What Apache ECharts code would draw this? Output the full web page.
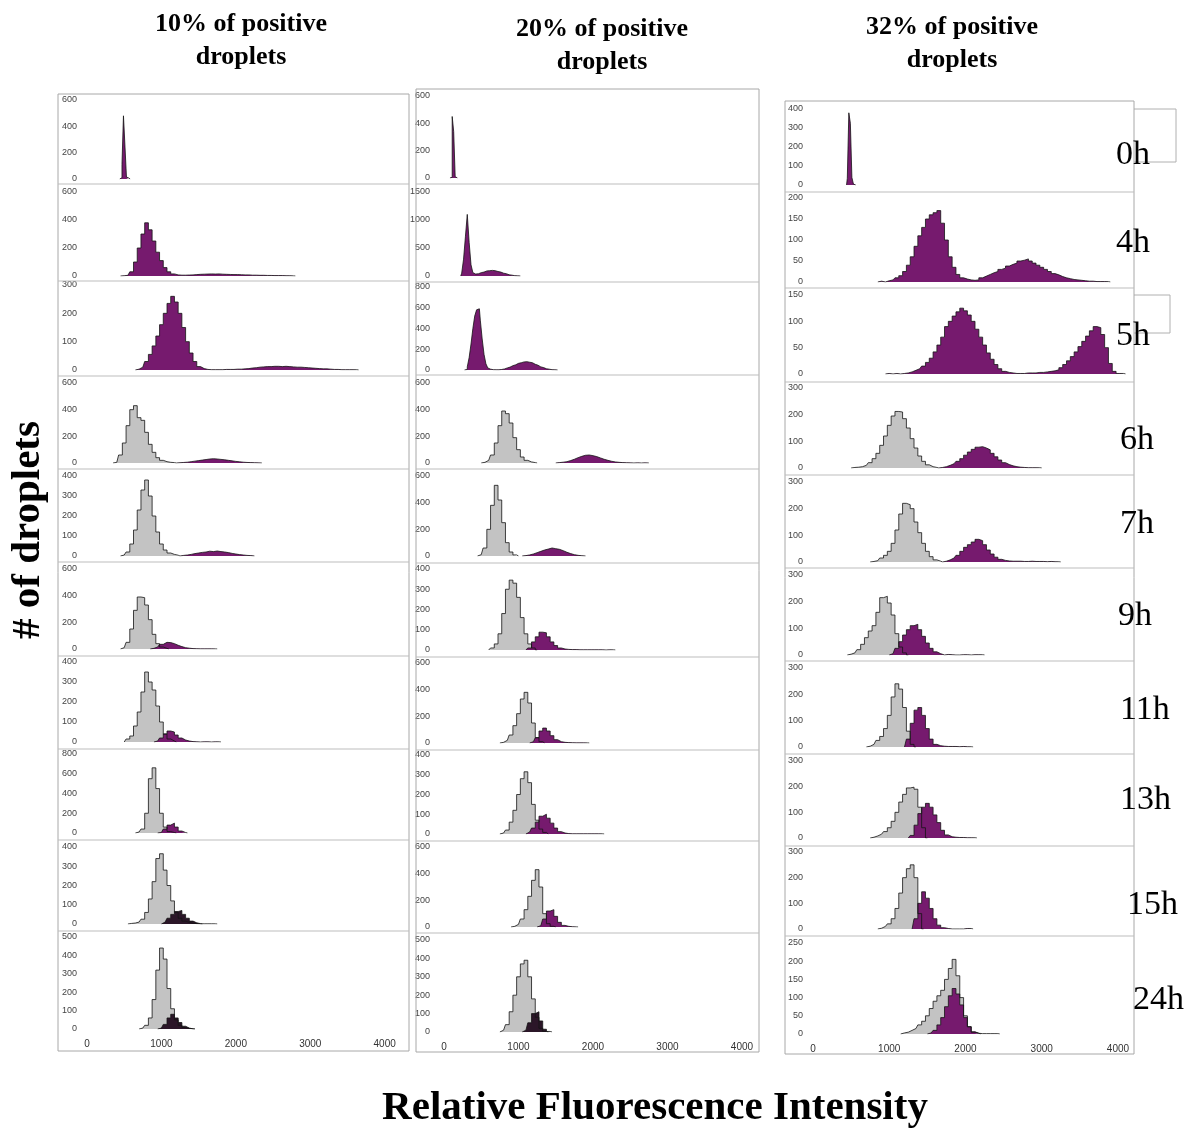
<!DOCTYPE html>
<html>
<head>
<meta charset="utf-8">
<title>Droplet fluorescence histograms</title>
<script src="https://cdn.jsdelivr.net/npm/echarts@6.0.0/dist/echarts.min.js"></script>
<style>
  html, body { margin: 0; padding: 0; background: #fff; }
  #chart { width: 1189px; height: 1130px; }
</style>
</head>
<body>
<div id="chart"></div>
<script>
// column titles and time points (one row per time point)
var columnTitles = ['10% of positive\ndroplets', '20% of positive\ndroplets', '32% of positive\ndroplets'];
var timeLabels = ['0h', '4h', '5h', '6h', '7h', '9h', '11h', '13h', '15h', '24h'];

// y axis top tick and tick step of every panel, per column
var yMax10 = [600, 600, 300, 600, 400, 600, 400, 800, 400, 500];
var yStep10 = [200, 200, 100, 200, 100, 200, 100, 200, 100, 100];
var yMax20 = [600, 1500, 800, 600, 600, 400, 600, 400, 600, 500];
var yStep20 = [200, 500, 200, 200, 200, 100, 200, 100, 200, 100];
var yMax32 = [400, 200, 150, 300, 300, 300, 300, 300, 300, 250];
var yStep32 = [100, 50, 50, 100, 100, 100, 100, 100, 100, 50];

// histograms: [first bin centre, bin width, counts]
// g = negative (grey) droplets, p = positive (purple) droplets
// 10% column
var a0p = [460, 20, [10, 110, 480, 250, 15, 8]];
var a1p = [500, 50, [2, 5, 30, 100, 200, 300, 380, 330, 250, 170, 110, 60, 30, 15, 8, 6, 6, 7, 8, 10, 12, 13, 14, 15, 14, 15, 13, 12, 11, 10, 10, 9, 8, 8, 6, 6, 5, 5, 4, 4, 3, 3, 3, 2, 2, 1]];
var a2p = [700, 50, [3, 10, 30, 55, 85, 120, 160, 200, 235, 260, 240, 200, 150, 100, 60, 30, 12, 5, 2, 1, 1, 1, 1, 2, 2, 2, 3, 3, 4, 5, 7, 8, 10, 11, 12, 12, 13, 13, 12, 13, 12, 11, 10, 10, 9, 8, 7, 6, 5, 4, 4, 3, 2, 2, 1, 1, 1, 1, 1]];
var a3g = [400, 50, [5, 60, 150, 280, 400, 430, 340, 320, 230, 140, 80, 40, 20, 10, 5, 3]];
var a3p = [1250, 50, [2, 4, 6, 10, 14, 18, 22, 26, 30, 32, 30, 27, 24, 20, 16, 12, 9, 6, 4, 3, 2, 1]];
var a4g = [500, 50, [5, 20, 60, 130, 230, 330, 380, 300, 200, 120, 60, 30, 15, 8, 4]];
var a4p = [1300, 50, [3, 5, 8, 12, 15, 18, 20, 24, 22, 25, 22, 20, 17, 13, 10, 7, 5, 3, 2]];
var a5g = [500, 50, [10, 50, 150, 290, 390, 385, 330, 220, 110, 40, 15, 5]];
var a5p = [900, 50, [5, 15, 35, 50, 48, 40, 28, 18, 10, 6, 3, 2, 1, 1, 1, 1, 1]];
var a6g = [550, 50, [15, 30, 80, 150, 250, 350, 300, 260, 180, 100, 40, 15, 5]];
var a6p = [950, 50, [5, 20, 40, 55, 50, 35, 20, 10, 5, 2, 1, 0, 1, 1, 0, 1, 1]];
var a7g = [700, 50, [10, 40, 200, 550, 660, 450, 200, 60, 15, 5]];
var a7p = [1000, 50, [5, 40, 80, 100, 60, 20, 5]];
var a8g = [600, 50, [3, 5, 10, 25, 60, 130, 220, 340, 365, 280, 200, 120, 60, 30, 15, 8, 4, 2, 1, 1, 1, 1, 1]];
var a8p = [1050, 50, [10, 30, 50, 65, 70, 50, 30, 15, 6, 2]];
var a9g = [750, 50, [5, 20, 60, 160, 320, 440, 380, 220, 110, 50, 20, 8, 3, 1]];
var a9p = [1000, 50, [5, 25, 60, 80, 60, 35, 15, 5, 1]];
// 20% column
var b0p = [100, 20, [5, 450, 340, 10]];
var b1p = [250, 25, [50, 300, 700, 1100, 600, 200, 60, 35, 40, 50, 60, 70, 80, 90, 95, 100, 100, 95, 90, 80, 70, 60, 50, 40, 30, 22, 15, 10, 6, 3, 1]];
var b2p = [300, 25, [5, 30, 120, 250, 400, 520, 580, 590, 480, 300, 150, 60, 20, 8, 3, 2, 2, 2, 3, 5, 10, 15, 20, 28, 35, 42, 50, 58, 64, 70, 75, 78, 80, 78, 75, 70, 62, 55, 46, 38, 30, 23, 17, 12, 8, 5, 3, 2, 1]];
var b3g = [550, 50, [5, 20, 60, 150, 280, 390, 370, 300, 190, 100, 45, 20, 8, 3]];
var b3p = [1550, 50, [3, 6, 10, 18, 28, 40, 50, 58, 60, 55, 48, 38, 28, 20, 13, 8, 5, 3, 2, 1, 0, 1, 0, 1]];
var b4g = [500, 50, [10, 60, 200, 380, 530, 420, 250, 100, 30, 8]];
var b4p = [1100, 50, [3, 8, 15, 25, 35, 45, 52, 60, 55, 50, 40, 28, 18, 10, 5, 2]];
var b5g = [650, 50, [10, 30, 80, 180, 300, 345, 330, 260, 160, 80, 30, 10]];
var b5p = [1150, 50, [10, 40, 65, 88, 85, 65, 40, 22, 10, 5, 3, 2, 2, 1, 1, 1, 1, 1, 1, 1, 0, 1, 1]];
var b6g = [800, 50, [5, 20, 60, 130, 220, 330, 380, 300, 150, 40, 10]];
var b6p = [1200, 50, [10, 40, 90, 112, 90, 55, 25, 10, 5, 3, 2, 1, 1, 1, 1]];
var b7g = [800, 50, [5, 20, 60, 120, 200, 280, 315, 260, 150, 70, 25, 8]];
var b7p = [1150, 50, [10, 30, 60, 90, 100, 80, 55, 30, 12, 5, 2, 1, 1, 1, 1, 1, 1, 1, 1, 1]];
var b8g = [950, 50, [5, 20, 60, 130, 230, 350, 430, 300, 100, 25, 5]];
var b8p = [1300, 50, [10, 60, 120, 130, 80, 35, 12, 5, 2, 1]];
var b9g = [800, 50, [10, 40, 110, 200, 300, 370, 390, 300, 180, 80, 20, 3]];
var b9p = [1100, 50, [10, 50, 100, 110, 60, 15, 3]];
// 32% column
var c0p = [460, 20, [35, 380, 325, 40, 5]];
var c1p = [900, 50, [2, 0, 3, 5, 10, 15, 25, 40, 60, 85, 110, 130, 150, 160, 165, 170, 140, 100, 60, 35, 18, 10, 7, 5, 4, 5, 10, 14, 18, 22, 25, 30, 33, 38, 42, 45, 50, 52, 55, 50, 45, 40, 35, 30, 25, 20, 17, 13, 10, 8, 6, 5, 4, 3, 2, 2, 1, 1, 1, 1]];
var c2p = [1000, 50, [1, 0, 1, 0, 1, 2, 4, 7, 10, 15, 22, 30, 42, 55, 70, 90, 100, 110, 118, 125, 120, 112, 100, 85, 70, 55, 40, 28, 18, 10, 5, 3, 2, 1, 1, 1, 2, 2, 2, 3, 3, 4, 5, 6, 8, 12, 18, 25, 33, 42, 52, 62, 72, 82, 90, 88, 75, 50, 20, 5, 1, 1]];
var c3g = [550, 50, [2, 3, 5, 10, 20, 35, 55, 85, 120, 160, 195, 212, 210, 185, 150, 110, 75, 45, 25, 12, 5, 2]];
var c3p = [1700, 50, [2, 5, 10, 16, 25, 35, 48, 60, 70, 78, 80, 75, 68, 55, 42, 30, 20, 13, 8, 5, 3, 2, 1, 1, 1, 1]];
var c4g = [800, 50, [2, 5, 15, 25, 40, 70, 120, 180, 220, 215, 200, 150, 110, 70, 40, 20, 8, 3]];
var c4p = [1750, 50, [3, 8, 15, 25, 40, 55, 65, 75, 85, 80, 65, 45, 30, 18, 10, 6, 4, 3, 3, 3, 2, 2, 3, 2, 2, 2, 1, 2, 1, 1]];
var c5g = [500, 50, [3, 8, 20, 40, 65, 90, 110, 160, 215, 220, 195, 150, 80, 30, 8]];
var c5p = [1050, 50, [5, 25, 50, 75, 95, 110, 115, 95, 70, 45, 25, 12, 5, 0, 2, 1, 0, 0, 1, 1, 0, 1, 1, 1]];
var c6g = [750, 50, [3, 10, 25, 40, 70, 120, 190, 240, 220, 150, 60, 10]];
var c6p = [1250, 50, [30, 90, 140, 150, 120, 70, 30, 10, 5, 3, 2, 2, 2, 1, 2, 1, 1]];
var c7g = [800, 50, [3, 8, 15, 25, 40, 65, 100, 140, 170, 195, 198, 190, 120, 40]];
var c7p = [1300, 50, [10, 50, 95, 120, 135, 120, 90, 60, 30, 12, 5, 3, 2, 2, 1, 1, 1]];
var c8g = [900, 50, [3, 10, 20, 40, 80, 140, 200, 235, 250, 200, 60]];
var c8p = [1350, 50, [40, 100, 145, 120, 80, 40, 15, 5, 2, 0, 0, 0, 0, 2, 2]];
var c9g = [1200, 50, [3, 5, 10, 15, 25, 35, 50, 70, 90, 105, 120, 150, 180, 205, 160, 100, 50, 20, 5, 2, 1, 1, 1, 1, 1]];
var c9p = [1550, 50, [3, 10, 25, 45, 75, 105, 125, 110, 80, 45, 20, 6, 2]];

var neg10 = [null, null, null, a3g, a4g, a5g, a6g, a7g, a8g, a9g];
var pos10 = [a0p, a1p, a2p, a3p, a4p, a5p, a6p, a7p, a8p, a9p];
var neg20 = [null, null, null, b3g, b4g, b5g, b6g, b7g, b8g, b9g];
var pos20 = [b0p, b1p, b2p, b3p, b4p, b5p, b6p, b7p, b8p, b9p];
var neg32 = [null, null, null, c3g, c4g, c5g, c6g, c7g, c8g, c9g];
var pos32 = [c0p, c1p, c2p, c3p, c4p, c5p, c6p, c7p, c8p, c9p];

// page layout (pixels)
var columns = [
    {
        neg: neg10, pos: pos10, yMax: yMax10, yStep: yStep10,
        left: 87, width: 320, xMax: 4300, labelMargin: 10,
        top: [100, 192, 285, 383, 476, 569, 662, 754, 847, 937],
        zero: [179, 276, 370, 463, 556, 649, 742, 833, 924, 1029],
        box: [58, 94, 409, 1051],
        seps: [184, 281, 376, 469, 562, 656, 749, 840, 931],
        titleX: 241, titleY: 41,
        darkRows: [8, 9]
    },
    {
        neg: neg20, pos: pos20, yMax: yMax20, yStep: yStep20,
        left: 444, width: 314, xMax: 4215, labelMargin: 14,
        top: [96, 192, 287, 383, 476, 569, 663, 755, 847, 940],
        zero: [178, 276, 370, 463, 556, 650, 743, 834, 927, 1032],
        box: [416, 89, 759, 1052],
        seps: [184, 282, 375, 469, 563, 657, 750, 841, 933],
        titleX: 602, titleY: 46,
        darkRows: [9]
    },
    {
        neg: neg32, pos: pos32, yMax: yMax32, yStep: yStep32,
        left: 813, width: 320, xMax: 4197, labelMargin: 10,
        top: [109, 198, 295, 388, 482, 575, 668, 761, 852, 943],
        zero: [185, 282, 374, 468, 562, 655, 747, 838, 929, 1034],
        box: [785, 101, 1134, 1054],
        seps: [192, 288, 382, 475, 568, 661, 754, 846, 936],
        titleX: 952, titleY: 44,
        darkRows: []
    }
];
var timeLabelPos = [[1116, 155], [1116, 243], [1116, 336], [1120, 440], [1120, 524],
    [1118, 616], [1120, 710], [1120, 800], [1127, 905], [1133, 1000]];
// leftover frame pieces beside the 0h and 5h labels
var sideBoxes = [[1134, 109, 1176, 162], [1134, 295, 1170, 333]];

var GREY = '#c3c3c3';
var PURPLE = '#761a6e';
var DARK = '#2b1628';

function toPoints(h) {
    var start = h[0], w = h[1], counts = h[2];
    var pts = [[start - w, 0]];
    counts.forEach(function (c, i) {
        pts.push([start + i * w, c]);
    });
    pts.push([start + counts.length * w, 0]);
    return pts;
}

function histSeries(h, k, color) {
    return {
        type: 'line',
        xAxisIndex: k,
        yAxisIndex: k,
        step: 'middle',
        symbol: 'none',
        silent: true,
        data: toPoints(h),
        lineStyle: { color: '#141414', width: 0.8 },
        areaStyle: { color: color, opacity: 1 }
    };
}

var grids = [], xAxes = [], yAxes = [], series = [], graphics = [];

columns.forEach(function (col, ci) {
    for (var r = 0; r < 10; r++) {
        var k = grids.length;
        grids.push({
            left: col.left,
            top: col.top[r],
            width: col.width,
            height: col.zero[r] - col.top[r]
        });
        xAxes.push({
            gridIndex: k,
            type: 'value',
            min: 0,
            max: col.xMax,
            interval: 1000,
            axisLine: { show: false },
            axisTick: { show: false },
            splitLine: { show: false },
            axisLabel: {
                show: r === 9,
                margin: 10,
                fontSize: 10,
                color: '#333',
                fontFamily: 'Liberation Sans',
                formatter: function (v) { return v % 1000 === 0 ? String(v) : ''; }
            }
        });
        yAxes.push({
            gridIndex: k,
            type: 'value',
            min: 0,
            max: col.yMax[r],
            interval: col.yStep[r],
            axisLine: { show: false },
            axisTick: { show: false },
            splitLine: { show: false },
            axisLabel: {
                margin: col.labelMargin,
                fontSize: 9,
                color: '#444',
                fontFamily: 'Liberation Sans',
                formatter: function (v) { return String(v); }
            }
        });
        if (col.neg[r]) {
            series.push(histSeries(col.neg[r], k, GREY));
        }
        var dark = col.darkRows.indexOf(r) >= 0;
        series.push(histSeries(col.pos[r], k, dark ? DARK : PURPLE));
    }

    // panel frame and row separators
    var b = col.box;
    graphics.push({
        type: 'rect',
        shape: { x: b[0], y: b[1], width: b[2] - b[0], height: b[3] - b[1] },
        style: { fill: 'none', stroke: '#a8a8a8', lineWidth: 1 },
        z: 10
    });
    col.seps.forEach(function (y) {
        graphics.push({
            type: 'line',
            shape: { x1: b[0], y1: y, x2: b[2], y2: y },
            style: { stroke: '#bdbdbd', lineWidth: 1 },
            z: 10
        });
    });

    graphics.push({
        type: 'text',
        x: col.titleX,
        y: col.titleY,
        style: {
            text: columnTitles[ci],
            font: 'bold 26px "Liberation Serif"',
            lineHeight: 33,
            fill: '#000',
            textAlign: 'center',
            textVerticalAlign: 'middle'
        }
    });
});

sideBoxes.forEach(function (s) {
    graphics.push({
        type: 'polyline',
        shape: { points: [[s[0], s[1]], [s[2], s[1]], [s[2], s[3]], [s[0], s[3]]] },
        style: { fill: 'none', stroke: '#b0b0b0', lineWidth: 1 },
        z: 5
    });
});

timeLabels.forEach(function (t, i) {
    graphics.push({
        type: 'text',
        x: timeLabelPos[i][0],
        y: timeLabelPos[i][1],
        style: {
            text: t,
            font: '34px "Liberation Serif"',
            fill: '#000',
            textAlign: 'left',
            textVerticalAlign: 'middle'
        },
        z: 20
    });
});

graphics.push({
    type: 'text',
    x: 28,
    y: 530,
    rotation: Math.PI / 2,
    style: {
        text: '# of droplets',
        font: 'bold 41px "Liberation Serif"',
        fill: '#000',
        textAlign: 'center',
        textVerticalAlign: 'middle'
    }
});
graphics.push({
    type: 'text',
    x: 655,
    y: 1108,
    style: {
        text: 'Relative Fluorescence Intensity',
        font: 'bold 41px "Liberation Serif"',
        fill: '#000',
        textAlign: 'center',
        textVerticalAlign: 'middle'
    }
});

var chart = echarts.init(document.getElementById('chart'), null, { renderer: 'canvas' });
chart.setOption({
    backgroundColor: '#fff',
    animation: false,
    grid: grids,
    xAxis: xAxes,
    yAxis: yAxes,
    series: series,
    graphic: graphics
});
</script>
</body>
</html>
